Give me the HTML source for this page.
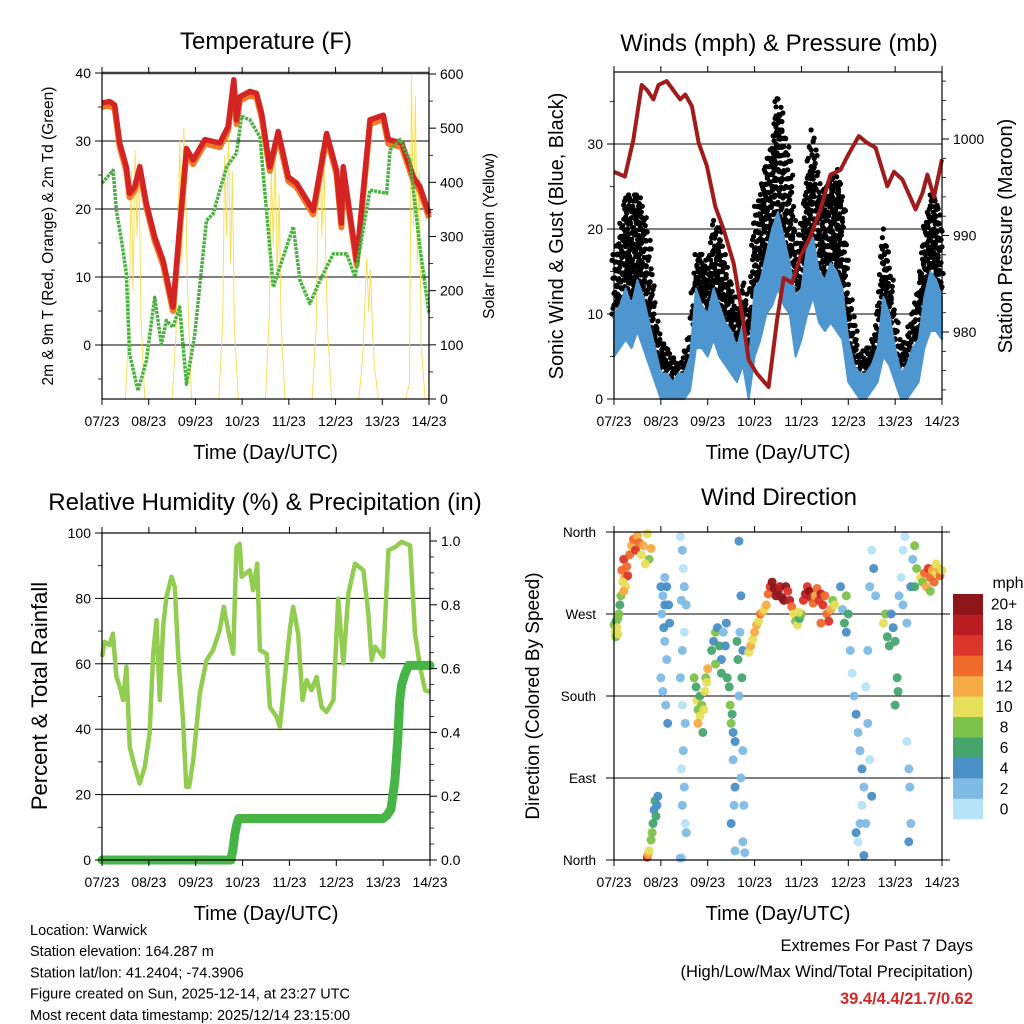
<!DOCTYPE html>
<html><head><meta charset="utf-8"><style>
html,body{margin:0;padding:0;background:#fff}
svg{display:block;font-family:"Liberation Sans",sans-serif}
</style></head><body>
<svg id="c" width="1024" height="1024" viewBox="0 0 1024 1024">
<rect width="1024" height="1024" fill="#fff"/>
</svg>
<script>
// ---------- DATA ----------
const dayLabels=["07/23","08/23","09/23","10/23","11/23","12/23","13/23","14/23"];
const tempH=[0,3.9,6.5,9.1,12.5,14.2,16.8,19.4,22.8,27.1,31.4,36.5,39.9,43.4,46.8,52.8,60.5,64.8,67.7,69.1,70.8,76,79.4,82,86.2,90.5,95.7,100,108.5,115.4,120.5,123,123.9,130.8,137.7,144.5,147.1,154,160,163.3,168];
const tempV=[35.6,35.8,35.3,29.7,26.2,22.3,23.3,26.2,20.8,15.9,12.4,5.6,17.4,28.9,27.2,30.2,29.7,32.1,39,33.1,36.5,37.3,37,34.1,26.2,31.4,24.7,23.8,19.8,31.1,25.7,17.9,26.2,12.4,33.1,33.8,30.2,29.7,24.7,23.3,19.3];
const dewH=[0,5.7,7.4,10,12.5,14.2,18.5,22.8,27.1,30.5,33.1,36.5,39.9,43.4,47.7,53.7,57.1,64,69.1,71.7,76,81.1,84.5,88,91.4,98.3,101.7,106.8,112,118.8,125.7,130,137.7,146.2,148,153.1,158.2,163.3,168];
const dewV=[23.8,25.7,19.8,15.4,10.5,-1.3,-6.7,-2.3,7,0.1,3.6,2.6,5.6,-5.8,1.6,18.3,19.3,26.2,28.2,33.6,33.1,30.6,19.8,8.5,11.5,17.4,9.5,6.1,9.5,13.4,13.4,10,22.8,22.3,28.7,30.2,27.2,14.4,4.6];
const solarH=[12,14,15,16,17,18,19,20,22, 36,38,39,40,41,42,43,44,46, 60,62,63,64,65,66,67,68,70, 84,86,87,88,89,90,91,92,94, 108,110,111,112,113,114,115,116,118, 132,134,135,136,137,138,139,140,142, 156,158,159,160,161,162,163,164,166];
const solarV=[0,150,420,200,460,300,440,150,0, 0,120,300,480,250,500,380,200,0, 0,140,450,300,500,250,420,130,0, 0,160,430,280,460,220,380,140,0, 0,130,350,460,300,450,260,120,0, 0,80,170,260,160,240,120,60,0, 0,30,600,320,560,250,420,100,0];
const windH=[0,3,6,9,12,15,18,21,24,27,30,33,36,39,42,45,48,51,54,57,60,63,66,69,72,75,78,81,84,87,90,93,96,99,102,105,108,111,114,117,120,123,126,129,132,135,138,141,144,147,150,153,156,159,162,165,168];
const windHi=[10,11,13,11,14,12,9,6,3,3,2,3,3,5,13,11,10,13,11,9,8,6,9,4,13,14,17,20,22,19,16,12,13,18,19,15,14,16,15,13,7,4,3,3,4,6,12,10,6,3,4,6,7,12,15,14,12];
const windLo=[5,6,7,6,8,6,4,2,0,0,0,0,0,1,6,6,5,7,5,4,3,2,4,0,5,7,10,11,13,11,10,5,7,10,12,9,8,9,8,7,2,1,0,0,1,2,5,4,2,0,0,1,2,6,8,8,7];
const gustV=[17,19,24,24,24,22,18,10,7,6,5,4,5,8,17,17,15,21,20,16,13,10,14,9,22,24,28,30,36,32,28,18,20,26,32,24,25,26,27,24,13,9,5,6,6,10,20,16,10,6,7,10,13,20,24,24,20];
const presH=[0,5.6,9.9,14.2,16.8,20.2,22.8,27,31.3,33.9,36.5,39.9,43.4,47.6,51.9,56.2,61.3,65.6,69,73.2,79.2,83.5,86.9,91.2,95.4,100.6,105.7,110.9,116,120.3,125.4,129.7,134,140,143.4,147.7,154.5,158,160.5,163.9,168];
const presV=[996.6,996.1,999.9,1005.6,1005.1,1004.1,1005.6,1006,1004.8,1004.1,1004.6,1003.4,999.6,997.2,993,990.6,987.1,981.9,977.1,975.7,974.3,981.2,985.6,985.1,987.8,989.9,992.7,996.3,996.8,998.5,1000.3,999.6,999.1,995.1,996.6,995.8,992.7,994.4,996.3,994,997.9];
const rhH=[0,1.4,3.9,5.6,7.4,9.1,10.8,12.5,14.2,16.8,19.3,21.9,24.4,26.2,27.9,29.6,31.3,33,35.6,37.3,39,41.5,43.2,44.6,46.7,50.1,53.5,56.9,60.3,62.4,64.6,67.2,68.9,70.6,71.5,75.7,77.4,79.5,80.9,84.3,86,89.4,91.1,93.7,96.2,97.9,100.5,102.7,104.8,107.3,109.9,112.5,115,118.5,121,123.6,126.2,129.6,133.9,136.4,138.1,139.9,144.1,146.7,150.1,153.5,157.8,160.3,162.9,165.5,168];
const rhV=[62.1,66.7,65.7,69.2,56,53,48.9,59.1,34.6,28.5,23.4,28.5,38.7,63.1,73.3,48.9,71.3,80.4,86.6,83.5,63.1,42.8,22.4,22.4,30.5,50.9,61.1,64.2,70.3,77.4,70.3,63.1,95.7,96.7,86.6,88.6,82.5,90.6,64.2,63.1,46.8,43.8,40.7,56,70.3,77.4,69.2,48.9,55,51.9,56,46.8,45.3,48.9,79.9,60.1,81.5,90.6,88.6,75.4,61.1,65.2,62.1,94.7,95.7,97.3,96.2,69.2,59.1,51.9,51.4];
const rainH=[0,66,67,68,69,70,144,146,148,150,151.5,152.5,153.5,155,157,168];
const rainV=[0,0,0.03,0.08,0.11,0.13,0.13,0.14,0.16,0.25,0.38,0.5,0.55,0.58,0.61,0.61];
const dirH=[0,0.5,1,1.5,2,2.5,3,3.5,1,2, 4,5,5.5,6,6.5,7,5,4.5, 8,9,10,11,12,13,14,15,17,18,19,16, 17,17.5,18,19,20,20.5,21,22,19.5,21.5,22.5, 24,25,26,24.5,25.5,26,27,24,25,26.5,27.5,28,28.5,27,26, 34,35,35.5,36,34.5,36,35,34,35,36.5,35.5,34.5,36,35,36.5,35,34,37,37, 41,42,42.5,43,44,45,44,46,46.5,47,48,47.5,43,45.5, 50,51,52,53,54,55,56,57,55,52,58,57.5, 59,59.5,60,60.5,61,62,61,62,61.5,60,62,64,65,64.5,66,65.5,64,66,65,66.5,66,67,63,63.5, 69,70,71,72,73,74,75,76,77,78, 79,80,81,82,83,84,85,86,87,88,89,90,91, 92,93,94,95,96,94.5, 97,98,99,100,101,102,103,104,105,106,107,108,109,110,111,112,113,106, 116,117,118,119,120,119,121,122,123,124,125,126,127,128,127,126,124,125,128,129,130,131,132,133,134,130,131,132,129, 138,139,140,141,142,143,144,145,145.5,144,146,147,148,149,148,150,150,151,151.5,152,151,152,153,154,155,154, 157,158,159,160,161,162,163,164,165,166,167,168,162,165];
const dirDeg=[258,250,262,255,265,270,280,290,245,248, 318,330,310,300,322,312,295,305, 335,345,352,340,356,348,335,345,358,330,342,325, 3,6,10,22,40,55,65,60,30,48,70, 300,290,280,270,255,240,220,200,185,170,150,280,260,300,310, 355,340,320,300,285,250,230,200,170,150,120,100,80,60,40,2,2,280,30, 200,190,175,165,180,170,158,165,185,200,210,195,150,140, 230,240,250,255,235,220,250,235,205,215,200,260, 190,170,150,160,140,130,110,80,60,40,10,350,290,250,230,200,180,120,90,60,20,8,240,220, 228,235,242,250,258,262,270,272,275,280, 292,300,305,298,290,295,300,288,285,300,295,285,278, 270,262,258,265,270,272, 285,292,300,295,288,282,290,298,285,292,280,290,270,262,275,285,280,260, 300,275,260,290,270,250,230,205,180,160,140,120,100,80,60,40,30,20,5,190,230,300,340,320,290,150,110,70,40, 260,270,245,235,270,255,240,200,185,170,290,310,340,355,280,260,130,100,80,40,20,300,330,345,320,300, 310,305,315,300,320,310,318,305,315,320,312,318,295,325];
const dirSpd=[8,10,6,9,7,8,6,7,8,10, 14,16,12,10,14,16,12,9, 14,12,13,15,12,14,10,12,10,8,12,9, 16,12,10,8,6,4,5,4,7,6,3, 3,2,4,2,3,1,2,1,2,1,3,4,3,4,2, 0,1,0,2,1,0,2,1,0,2,1,0,2,1,0,0,1,1,1, 8,6,10,8,6,8,10,9,10,8,12,10,12,6, 6,4,8,4,6,4,2,4,6,8,6,4, 6,8,8,6,4,4,2,4,2,4,2,4,4,2,4,6,2,2,1,1,1,1,6,6, 10,12,10,12,11,10,14,12,10,12, 14,16,20,20,20,20,18,20,20,20,16,18,14, 10,8,10,6,8,10, 16,18,16,20,18,14,12,14,16,18,16,14,14,16,12,8,10,14, 4,2,6,8,6,4,2,0,2,4,2,2,4,2,0,2,4,0,4,0,2,2,0,4,2,2,0,4,2, 10,8,6,6,4,4,6,6,6,6,2,0,0,0,2,2,0,2,2,2,4,4,2,8,8,6, 10,8,14,12,16,14,12,14,10,12,14,10,8,10];
const cbarLabels=["0","2","4","6","8","10","12","14","16","18","20+"];
const cbarColors=["#b6e3f8","#7fbbe4","#4a8fc6","#46a56e","#7dc24a","#e6df5a","#f5aa45","#ef6a2b","#dc3529","#b91d22","#8e1519"];

// ---------- HELPERS ----------
const NS="http://www.w3.org/2000/svg";
const svg=document.getElementById('c');
function mk(tag,attrs,parent){const e=document.createElementNS(NS,tag);for(const k in attrs)e.setAttribute(k,attrs[k]);(parent||svg).appendChild(e);return e;}
function txt(s,x,y,size,anchor,parent,extra){const t=mk('text',Object.assign({x:x,y:y,'font-size':size,'text-anchor':anchor||'middle',fill:'#000'},extra||{}),parent);t.textContent=s;return t;}
function lin(x0,x1,d0,d1){return v=>x0+(v-d0)/(d1-d0)*(x1-x0);}

function frame(g,X0,X1,Y0,Y1){
  mk('rect',{x:X0,y:Y0,width:X1-X0,height:Y1-Y0,fill:'none',stroke:'#000','stroke-width':1.2},g);
  for(let i=0;i<dayLabels.length;i++){
    const x=X0+i*(X1-X0)/7;
    mk('line',{x1:x,y1:Y1,x2:x,y2:Y1+6,stroke:'#000','stroke-width':1},g);
    mk('line',{x1:x,y1:Y0,x2:x,y2:Y0-6,stroke:'#000','stroke-width':1},g);
    const t=txt(dayLabels[i],x,Y1+27,14,'middle',g);
    
    
  }
  const xt=txt("Time (Day/UTC)",(X0+X1)/2,Y1+60,20,'middle',g);
  
  
}
function yTicks(g,side,X,sy,vals,labels,minor,size){
  const dir=side==='left'?-1:1;
  vals.forEach((v,i)=>{const y=sy(v);mk('line',{x1:X,y1:y,x2:X+dir*7,y2:y,stroke:'#000','stroke-width':1},g);
    const t=txt(labels[i],X+dir*11,y+5,size||14,side==='left'?'end':'start',g);
    
    });
  (minor||[]).forEach(v=>{const y=sy(v);mk('line',{x1:X,y1:y,x2:X+dir*4,y2:y,stroke:'#000','stroke-width':0.8},g);});
}
function grid(g,X0,X1,sy,vals){vals.forEach(v=>mk('line',{x1:X0,y1:sy(v),x2:X1,y2:sy(v),stroke:'#000','stroke-width':1},g));}
function pathOf(xs,ys,sx,sy){return xs.map((h,i)=>(i?'L':'M')+sx(h).toFixed(1)+','+sy(ys[i]).toFixed(1)).join('');}
function vtitle(g,s,x,y,size,rot){const t=txt(s,x,y,size,'middle',g,{transform:`rotate(${rot} ${x} ${y})`});return t;}

// ---------- PANEL 1: Temperature ----------
(function(){
  const X0=102,X1=429,Y0=73,Y1=399;
  const g=mk('g',{});
  
  
  const sx=lin(X0,X1,0,168), sy=lin(345,141,0,30), sr=lin(399,74,0,600);
  const tt=txt("Temperature (F)",266,49,24,'middle',g);
  
  
  grid(g,X0,X1,sy,[0,10,20,30]);
  mk('line',{x1:X0,y1:73,x2:X1,y2:73,stroke:'#999','stroke-width':3},g);
  const sol=mk('path',{d:pathOf(solarH,solarV,sx,sr),fill:'none',stroke:'#f7dc4a','stroke-width':1,opacity:0.9},g);
  
  
  const t9=mk('path',{d:pathOf(tempH,tempV.map(v=>v-0.6),sx,sy),fill:'none',stroke:'#f07a2a','stroke-width':6,'stroke-linejoin':'round'},g);
  
  
  const t2=mk('path',{d:pathOf(tempH,tempV,sx,sy),fill:'none',stroke:'#d42323','stroke-width':5.5,'stroke-linejoin':'round'},g);
  
  
  const td=mk('path',{d:pathOf(dewH,dewV,sx,sy),fill:'none',stroke:'#4bb140','stroke-width':3.5,'stroke-dasharray':'3 1','stroke-linejoin':'round'},g);
  
  
  frame(g,X0,X1,Y0,Y1);
  yTicks(g,'left',X0,sy,[0,10,20,30,40],["0","10","20","30","40"],[-5,5,15,25,35],14);
  yTicks(g,'right',X1,sr,[0,100,200,300,400,500,600],["0","100","200","300","400","500","600"],[50,150,250,350,450,550],14);
  const yl=vtitle(g,"2m & 9m T (Red, Orange) & 2m Td (Green)",53,236,15.5,-90);
  
  
  const yr=vtitle(g,"Solar Insolation (Yellow)",494,236,15.5,-90);
  
  
})();

// ---------- PANEL 2: Winds ----------
(function(){
  const X0=614,X1=942,Y0=72,Y1=399;
  const g=mk('g',{});
  
  
  const sx=lin(X0,X1,0,168), sy=lin(399,144,0,30), sp=lin(332,139,980,1000);
  const tt=txt("Winds (mph) & Pressure (mb)",779,51,24,'middle',g);
  
  
  grid(g,X0,X1,sy,[10,20,30]);
  // gust dots: fill between wind top and gust top, sub-sampled along interpolated data
  const sub=6;
  for(let i=0;i<windH.length-1;i++){
    for(let k=0;k<sub;k++){
      const f=k/sub, h=windH[i]+f*(windH[i+1]-windH[i]);
      const top=gustV[i]+f*(gustV[i+1]-gustV[i]);
      const bot=windHi[i]+f*(windHi[i+1]-windHi[i]);
      const n=Math.max(1,Math.round((top-bot)/1.3));
      for(let j=0;j<=n;j++){
        const v=bot+(top-bot)*j/n - ((j+k)%3)*0.35;
        const c=mk('circle',{cx:(sx(h)+((j*7+k*3)%5)-2).toFixed(1),cy:sy(v).toFixed(1),r:2.6,fill:'#000'},g);
        
        
      }
    }
  }
  const d=pathOf(windH,windHi,sx,sy)+windH.slice().reverse().map((h,i)=>'L'+sx(h).toFixed(1)+','+sy(windLo[windLo.length-1-i]).toFixed(1)).join('')+'Z';
  const band=mk('path',{d:d,fill:'#4e96d0',stroke:'#4e96d0','stroke-width':2,'stroke-linejoin':'round'},g);
  
  
  const pr=mk('path',{d:pathOf(presH,presV,sx,sp),fill:'none',stroke:'#a01b1b','stroke-width':4,'stroke-linejoin':'round'},g);
  
  
  mk('rect',{x:X0,y:Y1+1,width:X1-X0,height:12,fill:'#fff'},g);
  mk('rect',{x:X0,y:Y0-14,width:X1-X0,height:13,fill:'#fff'},g);
  frame(g,X0,X1,Y0,Y1);
  yTicks(g,'left',X0,sy,[0,10,20,30],["0","10","20","30"],[5,15,25,35],14);
  yTicks(g,'right',X1,sp,[980,990,1000],["980","990","1000"],[974,976,978,982,984,986,988,992,994,996,998,1002,1004,1006],14);
  const yl=vtitle(g,"Sonic Wind & Gust (Blue, Black)",563,236,20,-90);
  
  
  const yr=vtitle(g,"Station Pressure (Maroon)",1012,236,20,-90);
  
  
})();

// ---------- PANEL 3: RH ----------
(function(){
  const X0=102,X1=430,Y0=533,Y1=860;
  const g=mk('g',{});
  
  
  const sx=lin(X0,X1,0,168), sy=lin(860,533,0,100), sr=lin(860,541,0,1);
  const tt=txt("Relative Humidity (%) & Precipitation (in)",265,510,24,'middle',g);
  
  
  grid(g,X0,X1,sy,[20,40,60,80]);
  const rh=mk('path',{d:pathOf(rhH,rhV,sx,sy),fill:'none',stroke:'#92cc50','stroke-width':4.5,'stroke-linejoin':'round'},g);
  
  
  const rn=mk('path',{d:pathOf(rainH,rainV,sx,sr),fill:'none',stroke:'#46b545','stroke-width':9,'stroke-linejoin':'round','stroke-linecap':'round'},g);
  
  
  frame(g,X0,X1,Y0,Y1);
  yTicks(g,'left',X0,sy,[0,20,40,60,80,100],["0","20","40","60","80","100"],[10,30,50,70,90],14);
  yTicks(g,'right',X1,sr,[0,0.2,0.4,0.6,0.8,1.0],["0.0","0.2","0.4","0.6","0.8","1.0"],[0.05,0.1,0.15,0.25,0.3,0.35,0.45,0.5,0.55,0.65,0.7,0.75,0.85,0.9,0.95],14);
  const yl=vtitle(g,"Percent & Total Rainfall",47,696,22,-90);
  
  
})();

// ---------- PANEL 4: Wind direction ----------
(function(){
  const X0=614,X1=942,Y0=532,Y1=860;
  const g=mk('g',{});
  
  
  const sx=lin(X0,X1,0,168), sy=lin(860,532,0,360);
  const tt=txt("Wind Direction",779,505,24,'middle',g);
  
  
  grid(g,X0-8,X1+8,sy,[0,90,180,270,360]);
  const col=s=>cbarColors[Math.min(10,Math.max(0,Math.round(s/2)))];
  dirH.forEach((h,i)=>{
    const c=mk('circle',{cx:sx(h),cy:sy(dirDeg[i]),r:4.5,fill:col(dirSpd[i]),opacity:0.95},g);
    
    
  });
  frame(g,X0,X1,Y0,Y1);
  const names=["North","East","South","West","North"];
  [0,90,180,270,360].forEach((v,i)=>{const t=txt(names[i],596,sy(v)+5,13.5,'end',g);
    
    });
  const yl=vtitle(g,"Direction (Colored By Speed)",539,696,19,-90);
  
  
  // colorbar
  const cb=mk('g',{},g);
  
  
  const n=cbarColors.length, bh=(819-594)/n;
  for(let i=0;i<n;i++){
    const r=mk('rect',{x:953,y:819-(i+1)*bh,width:30,height:bh+0.3,fill:cbarColors[i]},cb);
    
    
    const t=txt(cbarLabels[i],1004,819-(i+0.5)*bh+5.5,15.5,'middle',cb);
    
    
  }
  const u=txt("mph",1008,588,16,'middle',cb);
  
  
})();

// ---------- FOOTER ----------
(function(){
  const g=mk('g',{});
  
  
  ["Location: Warwick","Station elevation: 164.287 m","Station lat/lon: 41.2404; -74.3906","Figure created on Sun, 2025-12-14, at 23:27 UTC","Most recent data timestamp: 2025/12/14 23:15:00"].forEach((s,i)=>{
    const t=txt(s,30,935+i*21.2,14.5,'start',g);
    
    
  });
  const g2=mk('g',{});
  
  
  const a=txt("Extremes For Past 7 Days",973,951,16.5,'end',g2);
  
  
  const b=txt("(High/Low/Max Wind/Total Precipitation)",973,977,16.5,'end',g2);
  
  
  const c=txt("39.4/4.4/21.7/0.62",973,1004,16.5,'end',g2,{fill:'#d02a2a','font-weight':'bold'});
  
  
})();
</script>
</body></html>
